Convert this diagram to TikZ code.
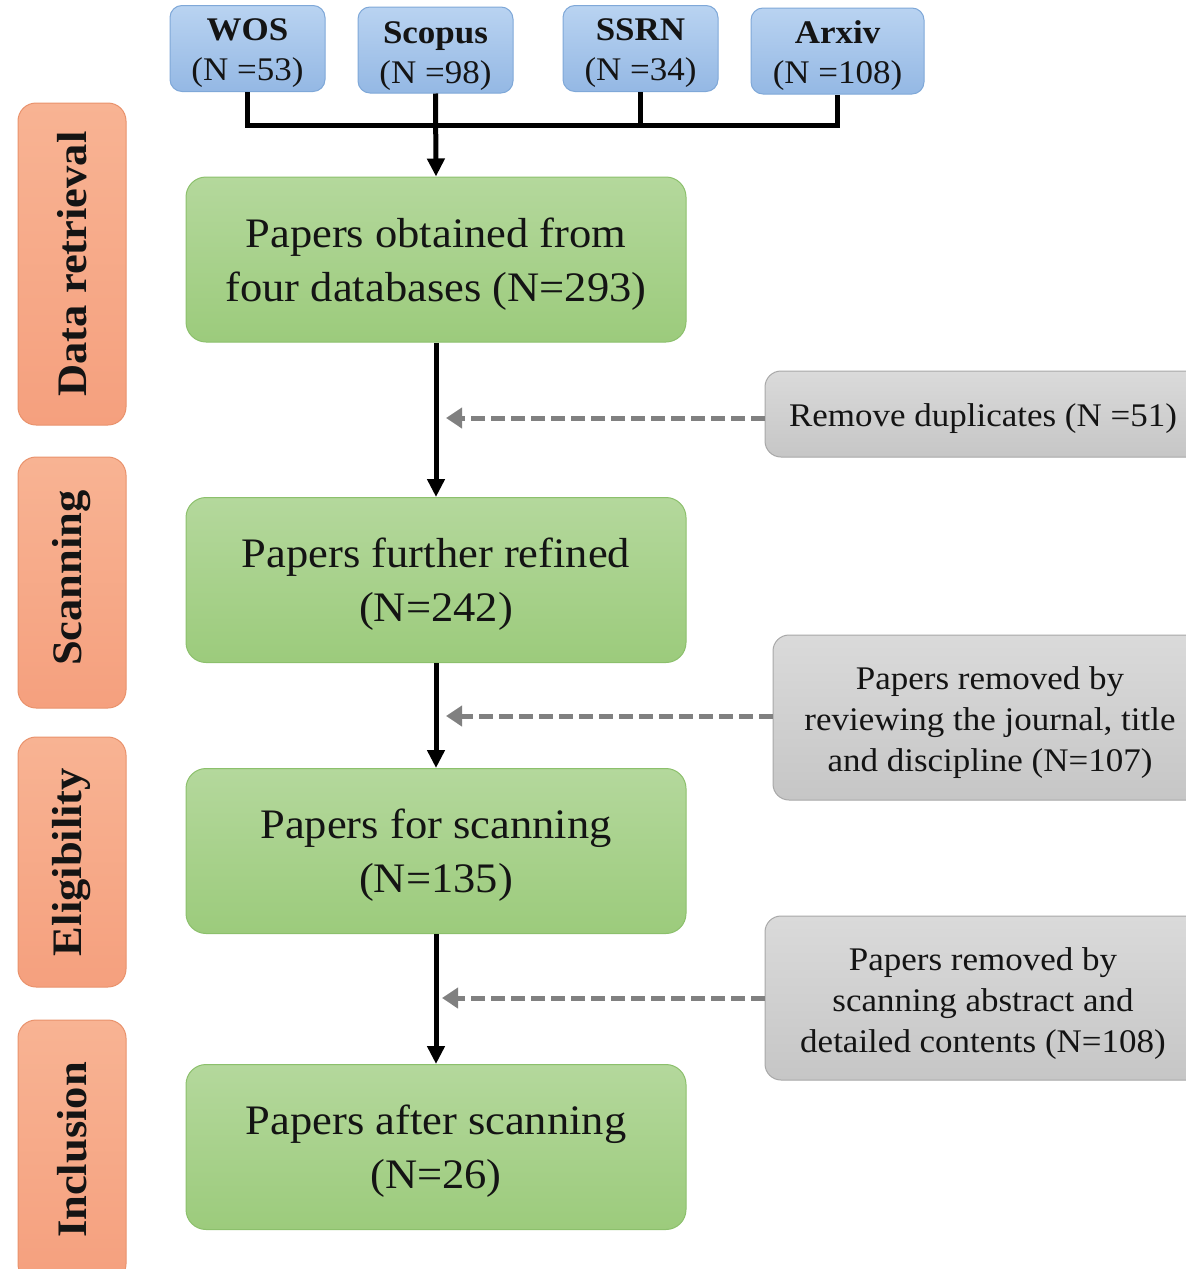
\documentclass[tikz,border=0pt]{standalone}
\usepackage{fontspec}
\setmainfont{Liberation Serif}[FakeStretch=1.06]
\usetikzlibrary{arrows.meta}
\definecolor{bluetop}{HTML}{B9D3F1}
\definecolor{bluebot}{HTML}{94B8E4}
\definecolor{blueline}{HTML}{7FA8D8}
\definecolor{greentop}{HTML}{B4D89C}
\definecolor{greenbot}{HTML}{9CCB7C}
\definecolor{greenline}{HTML}{8CC06C}
\definecolor{orangetop}{HTML}{F8B393}
\definecolor{orangebot}{HTML}{F5A07E}
\definecolor{orangeline}{HTML}{E9926C}
\definecolor{graytop}{HTML}{DADADA}
\definecolor{graybot}{HTML}{C6C6C6}
\definecolor{grayline}{HTML}{A8A8A8}
\definecolor{dashcol}{HTML}{808080}
\definecolor{txt}{HTML}{141414}
\tikzset{
  x=1pt,y=-1pt,
  dbbox/.style={draw=blueline, line width=1pt, rounded corners=12pt, top color=bluetop, bottom color=bluebot,
    minimum width=155pt, minimum height=86pt, inner sep=0pt},
  dbtext/.style={align=center, text=txt, inner sep=0pt, font=\fontsize{33}{40}\selectfont},
  gbox/.style={draw=greenline, line width=1pt, rounded corners=20pt, top color=greentop, bottom color=greenbot,
    minimum width=500pt, minimum height=165pt, inner sep=0pt},
  gtext/.style={align=center, text=txt, inner sep=0pt, font=\fontsize{42}{54}\selectfont},
  obox/.style={draw=orangeline, line width=1pt, rounded corners=18pt, top color=orangetop, bottom color=orangebot,
    minimum width=108pt, inner sep=0pt},
  olabel/.style={rotate=90, font=\bfseries\fontsize{42}{48}\selectfont, text=txt, inner sep=0pt},
  rbox/.style={draw=grayline, line width=1pt, rounded corners=16pt, top color=graytop, bottom color=graybot,
    inner sep=0pt},
  rtext/.style={align=center, text=txt, inner sep=0pt, font=\fontsize{33}{41}\selectfont},
  mainarrow/.style={line width=5pt, -{Triangle[width=17pt,length=18pt]}},
  busline/.style={line width=5pt},
  dasharrow/.style={draw=dashcol, line width=5pt, dash pattern=on 14pt off 6pt, -{Triangle[width=20pt,length=16pt]}},
}
\begin{document}
\begin{tikzpicture}
\useasboundingbox (0,0) rectangle (1186,1269);
% databases
\node[dbbox] (wos) at (247.5,48.5) {};
\node[dbtext] (wost) at (247.5,53) {\textbf{WOS}\\(N =53)};
\node[dbbox] (scopus) at (435.5,50) {};
\node[dbtext] (scopust) at (435.5,56) {\textbf{Scopus}\\(N =98)};
\node[dbbox] (ssrn) at (640.5,48.5) {};
\node[dbtext] (ssrnt) at (640.5,53) {\textbf{SSRN}\\(N =34)};
\node[dbbox, minimum width=173pt] (arxiv) at (837.5,51) {};
\node[dbtext] (arxivt) at (837.5,56) {\textbf{Arxiv}\\(N =108)};
% stage labels
\node[obox, minimum height=322pt] (o1) at (72,264) {};
\node[olabel] (l1) at (o1.center) {Data retrieval};
\node[obox, minimum height=251pt] (o2) at (72,582.5) {};
\node[olabel] (l2) at (72,578) {Scanning};
\node[obox, minimum height=250pt] (o3) at (72,862) {};
\node[olabel] (l3) at (o3.center) {Eligibility};
\node[obox, minimum height=262pt] (o4) at (72,1151) {};
\node[olabel] (l4) at (72,1150) {Inclusion};
% main boxes
\node[gbox] (g1) at (436,259.5) {};
\node[gtext] (g1t) at (436,264) {Papers obtained from\\four databases (N=293)};
\node[gbox] (g2) at (436,580) {};
\node[gtext] (g2t) at (436,584) {Papers further refined\\(N=242)};
\node[gbox] (g3) at (436,851) {};
\node[gtext] (g3t) at (436,855) {Papers for scanning\\(N=135)};
\node[gbox] (g4) at (436,1147) {};
\node[gtext] (g4t) at (436,1151) {Papers after scanning\\(N=26)};
% removal boxes
\node[rbox, minimum width=440pt, minimum height=86pt] (r1) at (985,414) {};
\node[rtext] (t1) at (983,419) {Remove duplicates (N =51)};
\node[rbox, minimum width=430pt, minimum height=165pt] (r2) at (988,717.5) {};
\node[rtext] (t2) at (990,723) {Papers removed by\\reviewing the journal, title\\and discipline (N=107)};
\node[rbox, minimum width=440pt, minimum height=164pt] (r3) at (985,998) {};
\node[rtext] (t3) at (983,1004) {Papers removed by\\scanning abstract and\\detailed contents (N=108)};
% bus
\coordinate (b1) at (247.5,125);
\coordinate (b4) at (837.5,125);
\draw[busline] (wos.south) -- (b1) -- (b4) -- (arxiv.south);
\draw[busline] (ssrn.south) -- (ssrn.south |- b1);
\draw[mainarrow] (scopus.south) -- (g1.north);
% main flow
\draw[mainarrow] (g1.south) -- (g2.north);
\draw[mainarrow] (g2.south) -- (g3.north);
\draw[mainarrow] (g3.south) -- (g4.north);
% dashed arrows
\coordinate (d1) at (446,418);
\coordinate (d2) at (446,716);
\coordinate (d3) at (442,998);
\draw[dasharrow] (r1.west |- d1) -- (d1);
\draw[dasharrow] (r2.west |- d2) -- (d2);
\draw[dasharrow] (r3.west |- d3) -- (d3);
\end{tikzpicture}
\end{document}
